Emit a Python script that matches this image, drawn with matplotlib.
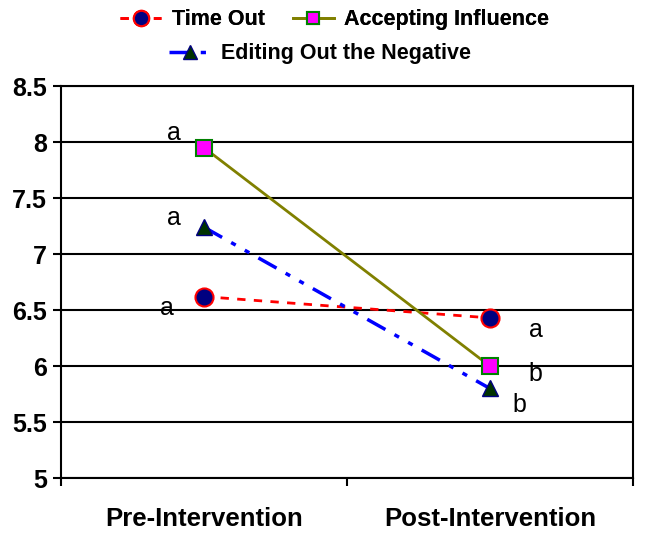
import numpy as np
import matplotlib.pyplot as plt
from matplotlib.ticker import FixedLocator, NullFormatter

plt.rcParams['font.family'] = ['Liberation Sans', 'DejaVu Sans']

categories = ['Pre-Intervention', 'Post-Intervention']
time_out = [6.62, 6.43]
accepting = [7.95, 6.0]
editing = [7.24, 5.8]
letters_time = ['a', 'a']
letters_acc = ['a', 'b']
letters_edit = ['a', 'b']
yticks = [5, 5.5, 6, 6.5, 7, 7.5, 8, 8.5]

fig = plt.figure(figsize=(6.45, 5.38), dpi=100)
ax = fig.add_axes([0.0946, 0.1115, 0.8864, 0.7285])

x = np.arange(len(categories))
l1, = ax.plot(x, time_out, color='red', ls=(0, (3, 3)), lw=2, marker='o', ms=13,
              mfc='#000080', mec='red', mew=1.5, zorder=3)
l2, = ax.plot(x, accepting, color='#808000', ls='-', lw=2, marker='s', ms=11,
              mfc='#ff00ff', mec='#008000', mew=1.5, zorder=3)
l3, = ax.plot(x, editing, color='#0000ff', ls=(0, (6, 3, 1.5, 3, 1.5, 3)), lw=2.5,
              marker='^', ms=12, mfc='#003300', mec='#000080', mew=1, zorder=3)

# significance letters, offsets in pixels (right, up)
offs = {
    'time': [(-37, -11), (46, -12)],
    'acc': [(-30, 15), (46, -8)],
    'edit': [(-30, 9), (30, -17)],
}
for key, vals, labs in [('time', time_out, letters_time), ('acc', accepting, letters_acc),
                        ('edit', editing, letters_edit)]:
    for i in range(len(x)):
        dx, dy = offs[key][i]
        ax.annotate(labs[i], (x[i], vals[i]), xytext=(dx * 0.72, dy * 0.72),
                    textcoords='offset points', ha='center', va='center', fontsize=18)

ax.set_xlim(-0.5, 1.5)
ax.set_ylim(5, 8.5)
ax.set_yticks(yticks)
ax.set_yticklabels(['{:g}'.format(t) for t in yticks], fontsize=18, fontweight='bold')
ax.yaxis.grid(True, color='black', lw=1.5)
ax.set_axisbelow(True)

ax.xaxis.set_major_locator(FixedLocator([-0.5, 0.5, 1.5]))
ax.xaxis.set_major_formatter(NullFormatter())
ax.xaxis.set_minor_locator(FixedLocator(x))
ax.set_xticklabels(categories, minor=True, fontsize=18.5, fontweight='bold')
ax.tick_params(axis='x', which='major', length=6, width=1.5, direction='out')
ax.tick_params(axis='x', which='minor', length=0, pad=21)
ax.tick_params(axis='y', length=6, width=1.5, pad=4)
for s in ax.spines.values():
    s.set_linewidth(1.5)

leg1 = fig.legend([l1, l2], ['Time Out', 'Accepting Influence'], ncol=2, loc='center',
                  bbox_to_anchor=(0.519, 0.963), frameon=False, handlelength=1.9,
                  columnspacing=1.3, handletextpad=0.5, markerscale=0.85,
                  prop={'size': 15.5, 'weight': 'bold'})
fig.add_artist(leg1)
fig.legend([l3], ['Editing Out the Negative'], loc='center', bbox_to_anchor=(0.496, 0.9),
           frameon=False, handlelength=1.9, handletextpad=0.5, markerscale=0.85,
           prop={'size': 15.5, 'weight': 'bold'})

fig.savefig('out.png', dpi=100)
